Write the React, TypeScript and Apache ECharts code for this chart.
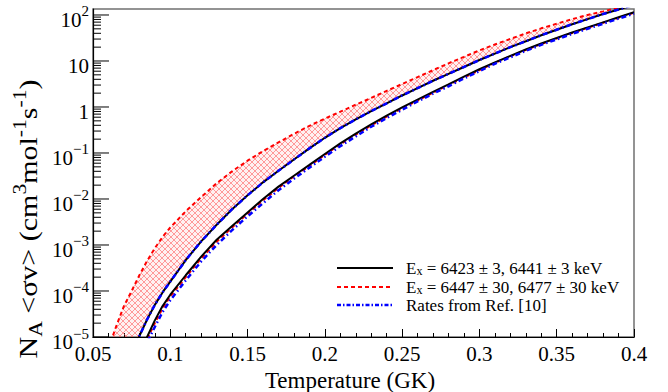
import React, { useEffect, useRef } from "react";
import * as echarts from "echarts";

// Temperature grid (GK)
const temperature = [
  0.06, 0.065, 0.07, 0.075, 0.08, 0.085, 0.09, 0.095,
  0.1, 0.11, 0.12, 0.13, 0.14, 0.15, 0.16, 0.17, 0.18, 0.19, 0.2,
  0.21, 0.22, 0.23, 0.24, 0.25, 0.26, 0.27, 0.28, 0.29, 0.3,
  0.31, 0.32, 0.33, 0.34, 0.35, 0.36, 0.37, 0.38, 0.39, 0.4,
];

// Upper edge of the uncertainty band (red dashed)
const redUpper = [
  5.6e-6, 1.7e-5, 4.7e-5, 1.0e-4, 2.2e-4, 4.5e-4, 8.5e-4, 1.5e-3,
  2.4e-3, 5.4e-3, 1.1e-2, 2.2e-2, 4.0e-2, 6.8e-2, 0.11, 0.17, 0.26, 0.39, 0.56,
  0.79, 1.12, 1.58, 2.24, 3.16, 4.47, 6.31, 8.91, 12.3, 17.0,
  22.9, 30.2, 39.8, 51.3, 64.6, 81.3, 100, 120, 145, 170,
];

// Upper black solid curve
const blackUpper = [
  null, null, null, 4.0e-6, 1.05e-5, 2.4e-5, 5.0e-5, 9.3e-5,
  1.6e-4, 4.7e-4, 1.2e-3, 2.75e-3, 6.0e-3, 1.2e-2, 2.3e-2, 4.1e-2, 7.2e-2, 0.126, 0.214,
  0.347, 0.537, 0.813, 1.2, 1.78, 2.57, 3.72, 5.25, 7.41, 10.5,
  14.5, 20.0, 26.9, 36.3, 47.9, 63.1, 81.3, 105, 132, 166,
];

// Upper blue dash-dot curve (Ref. [10])
const blueUpper = [
  null, null, null, 4.0e-6, 1.05e-5, 2.4e-5, 5.0e-5, 9.3e-5,
  1.6e-4, 4.7e-4, 1.2e-3, 2.75e-3, 6.0e-3, 1.2e-2, 2.3e-2, 4.1e-2, 7.2e-2, 0.126, 0.214,
  0.347, 0.537, 0.813, 1.2, 1.78, 2.57, 3.72, 5.25, 7.41, 10.5,
  14.5, 20.0, 26.9, 36.3, 47.9, 63.1, 81.3, 105, 132, 166,
];

// Lower black solid curve
const blackLower = [
  null, null, null, null, 4.0e-6, 1.0e-5, 2.3e-5, 4.7e-5,
  8.3e-5, 2.2e-4, 5.6e-4, 1.3e-3, 2.6e-3, 5.1e-3, 1.0e-2, 1.86e-2, 3.2e-2, 5.5e-2, 9.5e-2,
  0.162, 0.263, 0.417, 0.646, 0.977, 1.45, 2.14, 3.09, 4.57, 6.61,
  9.33, 12.9, 17.8, 24.0, 31.6, 41.7, 53.7, 69.2, 89.1, 115,
];

// Lower red dashed curve
const redLower = [
  null, null, null, null, 3.5e-6, 8.9e-6, 2.0e-5, 4.2e-5,
  7.6e-5, 2.0e-4, 5.1e-4, 1.17e-3, 2.4e-3, 4.8e-3, 9.3e-3, 1.74e-2, 3.1e-2, 5.2e-2, 9.1e-2,
  0.155, 0.251, 0.398, 0.617, 0.933, 1.38, 2.04, 3.02, 4.37, 6.31,
  9.12, 12.6, 17.4, 23.4, 30.9, 40.7, 52.5, 67.6, 87.1, 112,
];

// Lower blue dash-dot curve (Ref. [10])
const blueLower = [
  null, null, null, null, 2.5e-6, 7.6e-6, 1.66e-5, 3.5e-5,
  6.3e-5, 1.7e-4, 4.4e-4, 1.0e-3, 2.1e-3, 4.2e-3, 8.1e-3, 1.55e-2, 2.75e-2, 4.8e-2, 8.3e-2,
  0.141, 0.229, 0.372, 0.575, 0.871, 1.32, 1.95, 2.82, 4.17, 6.03,
  8.71, 12.0, 16.6, 22.4, 29.5, 38.9, 50.1, 64.6, 83.2, 107,
];

const yMajorTicks = [1e-5, 1e-4, 1e-3, 1e-2, 1e-1, 1, 10, 100];
const yMinorMultipliers = [2, 3, 4, 5, 6, 7, 8, 9];

const legendLabels = [
  "{n|E}{sub|x}{n| = 6423 ± 3, 6441 ± 3 keV}",
  "{n|E}{sub|x}{n| = 6447 ± 30, 6477 ± 30 keV}",
  "{n|Rates from Ref. [10]}",
];

const FONT = "Liberation Serif";

function pairs(vals: (number | null)[]) {
  const out: number[][] = [];
  temperature.forEach((t, i) => {
    const v = vals[i];
    if (v != null) out.push([t, v]);
  });
  return out;
}

function makeHatch(): string {
  const c = document.createElement("canvas");
  c.width = 6;
  c.height = 6;
  const ctx = c.getContext("2d");
  if (ctx) {
    ctx.fillStyle = "rgba(255,120,120,0.10)";
    ctx.fillRect(0, 0, 6, 6);
    ctx.strokeStyle = "rgba(255,80,80,0.55)";
    ctx.lineWidth = 1;
    ctx.beginPath();
    ctx.moveTo(0, 0);
    ctx.lineTo(6, 6);
    ctx.moveTo(6, 0);
    ctx.lineTo(0, 6);
    ctx.stroke();
  }
  return c.toDataURL();
}

export default function App() {
  const ref = useRef<HTMLDivElement>(null);

  useEffect(() => {
    if (!ref.current) return;
    const chart = echarts.init(ref.current, undefined, { renderer: "svg" });
    const hatch = makeHatch();

    const yTickData: number[][] = [];
    yMajorTicks.forEach((m) => {
      yTickData.push([0.05, m, 1]);
      if (m < 100) yMinorMultipliers.forEach((k) => yTickData.push([0.05, m * k, 0]));
    });

    const lineBase = {
      type: "line",
      showSymbol: false,
      symbol: "none",
      silent: true,
      clip: true,
      animation: false,
    };

    const legendY = [268, 287, 305];

    const option: any = {
      animation: false,
      backgroundColor: "#fff",
      grid: {
        left: 93,
        right: 34,
        top: 9,
        bottom: 55,
        show: true,
        borderColor: "#707070",
        borderWidth: 1.5,
        backgroundColor: "transparent",
      },
      xAxis: {
        type: "value",
        min: 0.05,
        max: 0.4,
        interval: 0.05,
        axisLine: { show: true, onZero: false, lineStyle: { color: "#000", width: 1.2 } },
        axisTick: { show: true, inside: true, length: 8, lineStyle: { color: "#000", width: 1 } },
        minorTick: { show: true, splitNumber: 5, length: 4, lineStyle: { color: "#000", width: 1 } },
        splitLine: { show: false },
        axisLabel: {
          fontFamily: FONT,
          fontSize: 21,
          color: "#000",
          margin: 6,
        },
      },
      yAxis: {
        type: "log",
        logBase: 10,
        min: 1e-5,
        max: 135,
        splitNumber: 7,
        axisLine: { show: true, onZero: false, lineStyle: { color: "#000", width: 1.2 } },
        axisTick: { show: false },
        splitLine: { show: false },
        axisLabel: {
          margin: 4,
          color: "#000",
          padding: [10, 0, 0, 0],
          formatter: (v: number) => {
            const e = Math.log10(v);
            const r = Math.round(e);
            if (Math.abs(e - r) > 1e-6) return "";
            if (r === 0) return "{b|1}";
            if (r === 1) return "{b|10}";
            return "{b|10}{s|" + (r < 0 ? "−" : "") + Math.abs(r) + "}";
          },
          rich: {
            b: { fontFamily: FONT, fontSize: 21, color: "#000", lineHeight: 32 },
            s: { fontFamily: FONT, fontSize: 15, color: "#000", verticalAlign: "top", lineHeight: 32 },
          },
        },
      },
      series: [
        {
          type: "custom",
          name: "band",
          silent: true,
          clip: true,
          z: 1,
          data: [[0.2, 1]],
          encode: { x: 0, y: 1 },
          renderItem: (_params: any, api: any) => {
            const pts: number[][] = [];
            temperature.forEach((t, i) => {
              const v = redUpper[i];
              if (v != null) pts.push(api.coord([t, v]));
            });
            for (let i = temperature.length - 1; i >= 0; i--) {
              const v = blackUpper[i];
              if (v != null) pts.push(api.coord([temperature[i], v]));
            }
            return {
              type: "polygon",
              shape: { points: pts },
              style: {
                fill: { image: hatch, repeat: "repeat", imageWidth: 6, imageHeight: 6 },
                stroke: "none",
              },
            };
          },
        },
        {
          type: "custom",
          name: "yticks",
          silent: true,
          clip: false,
          z: 5,
          data: yTickData,
          encode: { x: 0, y: 1 },
          renderItem: (_params: any, api: any) => {
            const p = api.coord([api.value(0), api.value(1)]);
            const len = api.value(2) === 1 ? 16 : 8;
            return {
              type: "line",
              shape: { x1: p[0], y1: p[1], x2: p[0] + len, y2: p[1] },
              style: { stroke: "#000", lineWidth: 1 },
            };
          },
        },
        { ...lineBase, name: "redUpper", z: 3, data: pairs(redUpper), lineStyle: { color: "#ff0000", width: 2, type: [4, 3] } },
        { ...lineBase, name: "redLower", z: 3, data: pairs(redLower), lineStyle: { color: "#ff0000", width: 2, type: [4, 3] } },
        { ...lineBase, name: "blackUpper", z: 4, data: pairs(blackUpper), lineStyle: { color: "#000", width: 2 } },
        { ...lineBase, name: "blackLower", z: 4, data: pairs(blackLower), lineStyle: { color: "#000", width: 2 } },
        { ...lineBase, name: "blueUpper", z: 5, data: pairs(blueUpper), lineStyle: { color: "#0000ff", width: 2.5, type: [5, 3, 1.5, 3] } },
        { ...lineBase, name: "blueLower", z: 5, data: pairs(blueLower), lineStyle: { color: "#0000ff", width: 2.5, type: [5, 3, 1.5, 3] } },
      ],
      graphic: [
        {
          type: "text",
          x: 28,
          y: 219,
          rotation: Math.PI / 2,
          scaleX: 1.2,
          style: {
            text: "{n|N}{sub|A}{n| <σv> (cm}{sup|3}{n|mol}{sup|-1}{n|s}{sup|-1}{n|)}",
            align: "center",
            verticalAlign: "middle",
            rich: {
              n: { fontFamily: FONT, fontSize: 25, fill: "#000", lineHeight: 34 },
              sub: { fontFamily: FONT, fontSize: 18, fill: "#000", verticalAlign: "bottom", lineHeight: 34 },
              sup: { fontFamily: FONT, fontSize: 18, fill: "#000", verticalAlign: "top", lineHeight: 34 },
            },
          },
        },
        {
          type: "text",
          x: 350,
          y: 380,
          style: {
            text: "Temperature (GK)",
            fontFamily: FONT,
            fontSize: 23,
            fill: "#000",
            align: "center",
            verticalAlign: "middle",
          },
        },
        { type: "line", shape: { x1: 337, y1: legendY[0], x2: 393, y2: legendY[0] }, style: { stroke: "#000", lineWidth: 2 } },
        { type: "line", shape: { x1: 337, y1: legendY[1], x2: 393, y2: legendY[1] }, style: { stroke: "#ff0000", lineWidth: 2, lineDash: [4, 3] } },
        { type: "line", shape: { x1: 337, y1: legendY[2], x2: 393, y2: legendY[2] }, style: { stroke: "#0000ff", lineWidth: 2.5, lineDash: [4, 2, 1.5, 2] } },
        ...legendLabels.map((t, i) => ({
          type: "text",
          x: 406,
          y: legendY[i],
          style: {
            text: t,
            align: "left",
            verticalAlign: "middle",
            rich: {
              n: { fontFamily: FONT, fontSize: 17, fill: "#000", lineHeight: 17 },
              sub: { fontFamily: FONT, fontSize: 12, fill: "#000", verticalAlign: "bottom", lineHeight: 17 },
            },
          },
        })),
      ],
    };

    chart.setOption(option);
    return () => chart.dispose();
  }, []);

  return (
    <div
      ref={ref}
      style={{ position: "fixed", left: 0, top: 0, width: 668, height: 392, background: "#fff" }}
    />
  );
}
